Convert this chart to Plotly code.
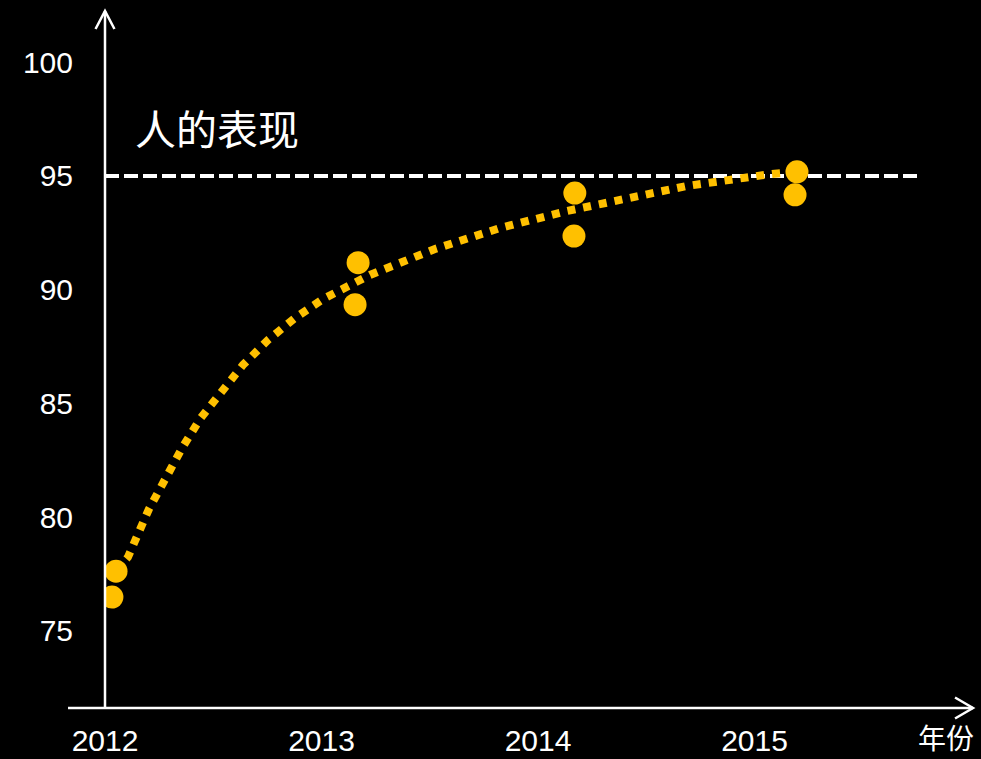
import plotly.graph_objects as go

# Observed scores per year (two measurements each)
years = [2012.032, 2012.051, 2013.169, 2013.155, 2014.170, 2014.166, 2015.196, 2015.187]
scores = [76.49, 77.63, 91.19, 89.34, 94.25, 92.36, 95.18, 94.17]

# Fitted trend curve
trend_x = [2012.051, 2012.106, 2012.203, 2012.277, 2012.356, 2012.439, 2012.536, 2012.637,
           2012.753, 2012.878, 2013.007, 2013.224, 2013.524, 2013.824, 2014.134, 2014.448,
           2014.688, 2015.081, 2015.196]
trend_y = [77.64, 78.25, 80.36, 81.73, 83.04, 84.32, 85.55, 86.69,
           87.79, 88.76, 89.59, 90.65, 91.79, 92.71, 93.46, 94.12,
           94.56, 95.09, 95.18]

# Human-level reference
human_level = 95
human_label = "人的表现"
human_span = [2012.0, 2015.755]

x_ticks = [2012, 2013, 2014, 2015]
y_ticks = [75, 80, 85, 90, 95, 100]
x_title = "年份"

YELLOW = "#FFC000"
WHITE = "#FFFFFF"
TICK_FONT = dict(family="Liberation Sans, Arial, sans-serif", size=30, color=WHITE)
CJK_FONT = "Noto Sans CJK SC"

fig = go.Figure()

fig.add_trace(go.Scatter(
    x=trend_x, y=trend_y, mode="lines",
    line=dict(color=YELLOW, width=8, dash="dot"),
    hoverinfo="skip", showlegend=False,
))
fig.add_trace(go.Scatter(
    x=years, y=scores, mode="markers",
    marker=dict(color=YELLOW, size=23, line=dict(width=0)),
    showlegend=False,
))

shapes = [
    # human-level dashed line
    dict(type="line", xref="x", yref="y", x0=human_span[0], x1=human_span[1],
         y0=human_level, y1=human_level, layer="below",
         line=dict(color=WHITE, width=4, dash="14px,5px")),
    # y axis with arrow
    dict(type="line", xref="paper", yref="paper", x0=0, x1=0, y0=0, y1=1,
         line=dict(color=WHITE, width=2.5)),
    dict(type="path", xref="paper", yref="paper",
         path="M -0.0109,0.9742 L 0,1 L 0.0109,0.9742",
         line=dict(color=WHITE, width=2.5)),
    # x axis with arrow
    dict(type="line", xref="paper", yref="paper", x0=-0.0426, x1=1, y0=0, y1=0,
         line=dict(color=WHITE, width=2.5)),
    dict(type="path", xref="paper", yref="paper",
         path="M 0.9793,0.0151 L 1,0 L 0.9793,-0.0151",
         line=dict(color=WHITE, width=2.5)),
]

annotations = [
    dict(x=2012.13, y=97.13, xref="x", yref="y", text=human_label, showarrow=False,
         xanchor="left", yanchor="middle",
         font=dict(family=CJK_FONT, size=41, color=WHITE)),
    dict(x=0.969, y=-0.0416, xref="paper", yref="paper", text=x_title, showarrow=False,
         xanchor="center", yanchor="middle", borderpad=0,
         font=dict(family=CJK_FONT, size=28, color=WHITE)),
]

fig.update_layout(
    width=981, height=759,
    margin=dict(l=105, r=8, t=11, b=51),
    paper_bgcolor="black", plot_bgcolor="black",
    shapes=shapes, annotations=annotations,
    xaxis=dict(range=[2012, 2016.009], tickvals=x_ticks, ticktext=[str(v) for v in x_ticks],
               showgrid=False, zeroline=False, showline=False, automargin=False,
               ticks="outside", ticklen=6, tickcolor="rgba(0,0,0,0)",
               tickfont=TICK_FONT),
    yaxis=dict(range=[71.615, 102.25], tickvals=y_ticks, ticktext=[str(v) for v in y_ticks],
               showgrid=False, zeroline=False, showline=False, automargin=False,
               ticks="outside", ticklen=25, tickcolor="rgba(0,0,0,0)",
               tickfont=TICK_FONT),
)

fig.write_html("out.html")
